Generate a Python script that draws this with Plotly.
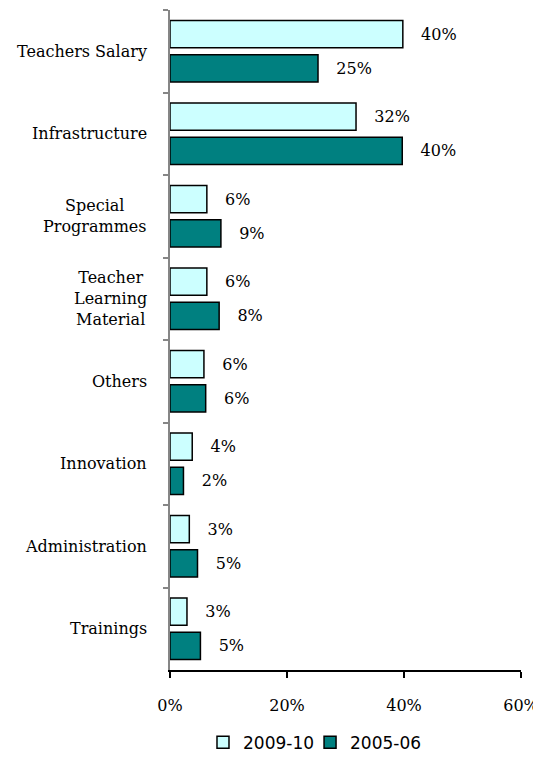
import plotly.graph_objects as go

CATEGORIES = ["Teachers Salary", "Infrastructure", "Special<br>Programmes",
              "Teacher<br>Learning<br>Material", "Others", "Innovation",
              "Administration", "Trainings"]
SERIES_NAMES = ["2009-10", "2005-06"]
VALUES_2009 = [0.398, 0.318, 0.063, 0.063, 0.058, 0.038, 0.033, 0.029]
VALUES_2005 = [0.253, 0.397, 0.087, 0.084, 0.061, 0.023, 0.047, 0.052]
X_TICKS = [0, 0.2, 0.4, 0.6]

COLORS = ["#CCFFFF", "#008080"]
SERIF = "DejaVu Serif"
PAD = "\u00a0\u00a0\u00a0"

fig = go.Figure()
for i, (name, vals, color) in enumerate(zip(SERIES_NAMES, [VALUES_2009, VALUES_2005], COLORS)):
    fig.add_trace(go.Bar(
        y=CATEGORIES, x=vals, name=name, orientation="h",
        marker=dict(color=color, line=dict(color="black", width=1.5)),
        texttemplate=PAD + "%{x:.0%}", textposition="outside",
        textfont=dict(family=SERIF, size=16, color="black"),
        constraintext="none", cliponaxis=False,
        legend="legend" if i == 0 else "legend2",
    ))

# category labels, centred lines in a right-aligned block
for cat in CATEGORIES:
    fig.add_annotation(
        x=0, xref="paper", y=cat, yref="y", xshift=-21,
        text=cat, showarrow=False, xanchor="right", align="center",
        font=dict(family=SERIF, size=16, color="black"),
    )

legend_style = dict(
    orientation="h", xanchor="left", y=-0.11, yanchor="middle",
    font=dict(family="DejaVu Sans", size=17, color="black"),
    itemwidth=30, bgcolor="rgba(0,0,0,0)",
)

fig.update_layout(
    width=533, height=764,
    margin=dict(l=162, r=20, t=2, b=102, autoexpand=False),
    paper_bgcolor="white", plot_bgcolor="white",
    barmode="group", bargap=0.17, bargroupgap=0.2,
    font=dict(family=SERIF, size=16, color="black"),
    showlegend=True,
    legend=dict(x=0.094, **legend_style),
    legend2=dict(x=0.399, **legend_style),
)
fig.update_xaxes(
    range=[0, 0.6], tickvals=X_TICKS, tickformat=".0%",
    showgrid=False, zeroline=False,
    showline=True, linecolor="black", linewidth=2,
    ticks="outside", ticklen=6, tickwidth=2, tickcolor="black",
    ticklabelstandoff=14,
    tickfont=dict(family=SERIF, size=16, color="black"),
)
fig.update_yaxes(
    type="category", categoryorder="array", categoryarray=CATEGORIES,
    range=[7.5, -0.5], showticklabels=False, showgrid=False, zeroline=False,
    showline=True, linecolor="#868686", linewidth=2,
    ticks="outside", ticklen=5, tickwidth=1.5, tickcolor="#868686",
    tickson="boundaries",
)

fig.write_html("out.html")
